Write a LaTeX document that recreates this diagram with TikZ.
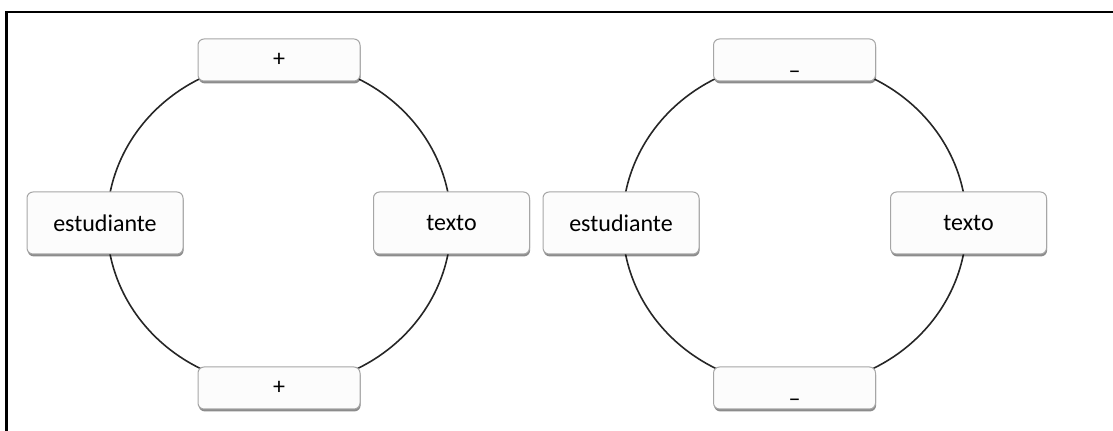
\documentclass[tikz,border=0pt]{standalone}
\usepackage{fontspec}
\setmainfont{Carlito}
\usetikzlibrary{shadows}
\begin{document}
\begin{tikzpicture}[x=0.5pt,y=-0.5pt,
  box/.style={draw=black!35, fill=black!1, rounded corners=3pt, line width=0.5pt,
    drop shadow={shadow xshift=0.3pt, shadow yshift=-1.2pt, opacity=0.45, fill=black},
    font=\fontsize{12}{14}\selectfont, inner sep=0pt},
  wide/.style={box, minimum width=81pt, minimum height=21pt},
  side/.style={box, minimum width=78pt, minimum height=31pt},
  ring/.style={draw=black!85, line width=0.8pt}]
\useasboundingbox (0,0) rectangle (1113,431);
\draw[line width=1.2pt] (6.5,431) -- (6.5,12) -- (1113,12);
% circles
\coordinate (c1) at (279,223.5);
\coordinate (c2) at (794.5,223.5);
\draw[ring] (c1) ellipse [x radius=86pt, y radius=81.5pt];
\draw[ring] (c2) ellipse [x radius=86pt, y radius=81.5pt];
% left diagram
\node[wide] (t1) at (279,60) {+};
\node[wide] (b1) at (279,388) {+};
\node[side] (l1) at (105,223) {estudiante};
\node[side] (r1) at (451.5,223) {texto};
% right diagram
\node[wide] (t2) at (794.5,60) {\raisebox{-9.5pt}[0pt][0pt]{–}};
\node[wide] (b2) at (794.5,388) {\raisebox{-9.5pt}[0pt][0pt]{–}};
\node[side] (l2) at (621,223) {estudiante};
\node[side] (r2) at (968.5,223) {texto};
\end{tikzpicture}
\end{document}
